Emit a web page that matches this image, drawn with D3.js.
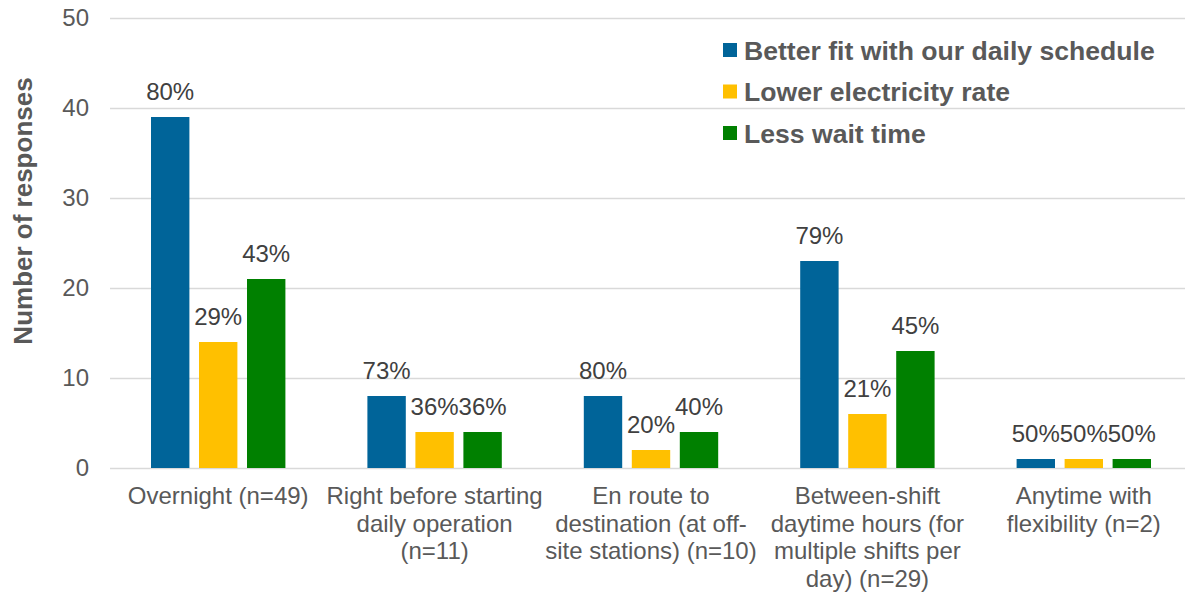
<!DOCTYPE html>
<meta charset="utf-8">
<script src="https://d3js.org/d3.v7.min.js"></script>
<style>
    body { margin: 0; background: #fff; }
    svg { font-family: "Liberation Sans", Arial, sans-serif; }
    .grid line { stroke: #d9d9d9; stroke-width: 1.5; }
    .grid path { display: none; }
</style>
<div id="vis"></div>
<script>
    var categories = [
        ["Overnight (n=49)"],
        ["Right before starting", "daily operation", "(n=11)"],
        ["En route to", "destination (at off-", "site stations) (n=10)"],
        ["Between-shift", "daytime hours (for", "multiple shifts per", "day) (n=29)"],
        ["Anytime with", "flexibility (n=2)"]
    ]
    var series = ["Better fit with our daily schedule", "Lower electricity rate", "Less wait time"]
    var colors = ["#006499", "#ffc000", "#008000"]
    var counts = [
        [39, 8, 8, 23, 1],
        [14, 4, 2, 6, 1],
        [21, 4, 4, 13, 1]
    ]
    var pctLabels = [
        ["80%", "73%", "80%", "79%", "50%"],
        ["29%", "36%", "20%", "21%", "50%"],
        ["43%", "36%", "40%", "45%", "50%"]
    ]
    var yTicks = [0, 10, 20, 30, 40, 50]

    var W = 1185, H = 592
    var margin = {left: 110, right: 1192, top: 18, bottom: 468}

    var svg = d3.select("#vis").append("svg")
        .attr("width", W).attr("height", H)

    var x0 = d3.scaleBand().domain(d3.range(categories.length)).range([margin.left, margin.right])
    var x1 = d3.scaleBand().domain(d3.range(series.length))
        .range([41, x0.bandwidth() - 41]).paddingInner(0.2)
    var y = d3.scaleLinear().domain([0, 50]).range([margin.bottom, margin.top])

    // grid lines
    svg.append("g")
        .attr("class", "grid")
        .attr("transform", "translate(" + margin.left + ",0)")
        .call(d3.axisLeft(y).tickValues(yTicks).tickSize(-(W - margin.left)).tickFormat(""))

    // y tick labels
    svg.append("g").selectAll("text")
        .data(yTicks).enter().append("text")
        .attr("x", 89).attr("y", function (d) { return y(d) })
        .attr("dy", "0.35em")
        .attr("text-anchor", "end")
        .style("font-size", "24px").style("fill", "#595959")
        .text(function (d) { return d })

    // y axis title
    svg.append("text")
        .attr("transform", "translate(32,211) rotate(-90)")
        .attr("text-anchor", "middle")
        .style("font-size", "26px").style("font-weight", "bold").style("fill", "#595959")
        .text("Number of responses")

    // bars + labels
    series.forEach(function (s, si) {
        var g = svg.append("g")
        g.selectAll("rect")
            .data(counts[si]).enter().append("rect")
            .attr("x", function (d, i) { return x0(i) + x1(si) })
            .attr("y", function (d) { return y(d) })
            .attr("width", x1.bandwidth())
            .attr("height", function (d) { return y(0) - y(d) })
            .attr("fill", colors[si])
        g.selectAll("text")
            .data(counts[si]).enter().append("text")
            .attr("x", function (d, i) { return x0(i) + x1(si) + x1.bandwidth() / 2 })
            .attr("y", function (d) { return y(d) - 17 })
            .attr("text-anchor", "middle")
            .style("font-size", "24px").style("fill", "#404040")
            .text(function (d, i) { return pctLabels[si][i] })
    })

    // category labels
    var cat = svg.append("g").selectAll("text")
        .data(categories).enter().append("text")
        .attr("text-anchor", "middle")
        .style("font-size", "24px").style("fill", "#595959")
    cat.selectAll("tspan")
        .data(function (d, i) { return d.map(function (t) { return {t: t, i: i} }) })
        .enter().append("tspan")
        .attr("x", function (d) { return x0(d.i) + x0.bandwidth() / 2 })
        .attr("y", function (d, j) { return 504 + j * 27.5 })
        .text(function (d) { return d.t })

    // legend
    var leg = svg.append("g").selectAll("g")
        .data(series).enter().append("g")
        .attr("transform", function (d, i) { return "translate(723," + (50 + i * 41.5) + ")" })
    leg.append("rect")
        .attr("x", 0).attr("y", -7).attr("width", 14).attr("height", 14)
        .attr("fill", function (d, i) { return colors[i] })
    leg.append("text")
        .attr("x", 21).attr("dy", "0.36em")
        .style("font-size", "26.6px").style("font-weight", "bold").style("fill", "#595959")
        .text(function (d) { return d })
</script>
